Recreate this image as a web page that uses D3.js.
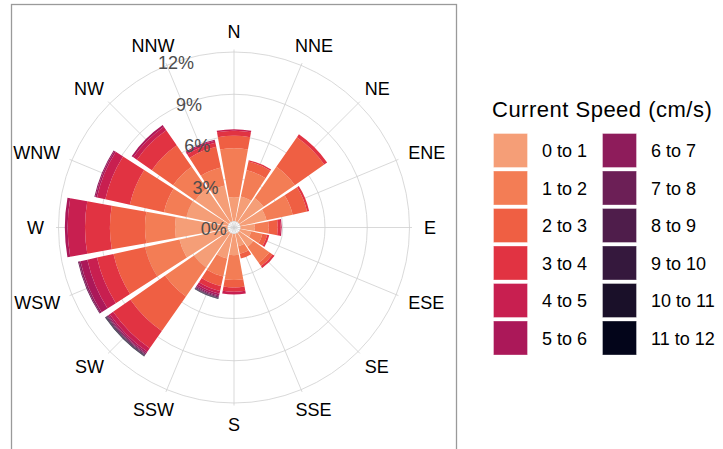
<!DOCTYPE html>
<html>
<head>
<meta charset="utf-8">
<script src="https://cdn.jsdelivr.net/npm/d3@7"></script>
<style>
  body { margin: 0; background: #fff; }
  svg { display: block; font-family: "Liberation Sans", Arial, sans-serif; }
</style>
</head>
<body>
<svg width="723" height="449"></svg>
<script>
var directions = ["N", "NNE", "NE", "ENE", "E", "ESE", "SE", "SSE",
                  "S", "SSW", "SW", "WSW", "W", "WNW", "NW", "NNW"];
var speedBins = ["0 to 1", "1 to 2", "2 to 3", "3 to 4", "4 to 5", "5 to 6",
                 "6 to 7", "7 to 8", "8 to 9", "9 to 10", "10 to 11", "11 to 12"];
var binColors = ["#F59E77", "#F37D55", "#EF5F43", "#E13342", "#C81F50", "#AB1859",
                 "#8E1C5B", "#6C1F56", "#4F1D4B", "#35183D", "#1A1029", "#03051A"];
var pctTicks = [0, 3, 6, 9, 12];

// frequency (%) per speed bin, directions in the order above
var speed0to1   = [1.7, 1.8, 2.1, 1.9, 1.0, 0.8, 1.2, 0.9, 1.5, 1.8, 3.0, 3.5, 3.73, 3.0, 2.9, 2.6];
var speed1to2   = [3.46, 1.9, 2.7, 1.9, 1.0, 0.8, 1.4, 0.55, 1.77, 1.3, 2.5, 2.5, 2.13, 1.63, 1.9, 1.3];
var speed2to3   = [0.89, 0.63, 2.55, 1.05, 0.65, 0.35, 0.28, 0.35, 0.52, 0.7, 3.0, 2.3, 2.49, 2.48, 1.85, 1.5];
var speed3to4   = [0.35, 0.1, 0.25, 0.15, 0.2, 0.15, 0.17, 0, 0.31, 0.35, 1.5, 1.2, 1.77, 1.78, 1.3, 0.3];
var speed4to5   = [0.12, 0, 0, 0, 0.08, 0, 0, 0, 0.2, 0.2, 0.3, 0.7, 1.23, 0.61, 0.3, 0.15];
var speed5to6   = [0, 0, 0, 0, 0, 0, 0, 0, 0, 0.13, 0.12, 0.5, 0.2, 0.12, 0.15, 0.07];
var speed6to7   = [0, 0, 0, 0, 0, 0, 0, 0, 0, 0.08, 0.08, 0.12, 0, 0.07, 0, 0];
var speed7to8   = [0, 0, 0, 0, 0, 0, 0, 0, 0, 0.06, 0.06, 0.06, 0, 0, 0, 0];
var speed8to9   = [0, 0, 0, 0, 0, 0, 0, 0, 0, 0.04, 0.05, 0, 0, 0, 0, 0];
var speed9to10  = [0, 0, 0, 0, 0, 0, 0, 0, 0, 0.03, 0.04, 0, 0, 0, 0, 0];
var speed10to11 = [0, 0, 0, 0, 0, 0, 0, 0, 0, 0.02, 0.03, 0, 0, 0, 0, 0];
var speed11to12 = [0, 0, 0, 0, 0, 0, 0, 0, 0, 0.02, 0.02, 0, 0, 0, 0, 0];

var binValues = [speed0to1, speed1to2, speed2to3, speed3to4, speed4to5, speed5to6,
                 speed6to7, speed7to8, speed8to9, speed9to10, speed10to11, speed11to12];

var rows = directions.map(function(dir, i) {
  var row = {dir: dir};
  speedBins.forEach(function(b, j) { row[b] = binValues[j][i]; });
  return row;
});

var svg = d3.select("svg"),
    cx = 234, cy = 227.5;

var step = 2 * Math.PI / directions.length;
var theta = d3.scaleBand()
    .domain(directions)
    .range([-step / 2, 2 * Math.PI - step / 2])
    .paddingInner(0.1)
    .paddingOuter(0.05);

var r = d3.scaleLinear().domain([0, 12]).range([6.5, 175.5]);

var color = d3.scaleOrdinal().domain(speedBins).range(binColors);

// panel border
svg.append("rect")
    .attr("x", 11.5).attr("y", 4.5)
    .attr("width", 445).attr("height", 450)
    .attr("fill", "none")
    .attr("stroke", "#9a9a9a")
    .attr("stroke-width", 1.3);

var plot = svg.append("g").attr("transform", "translate(" + cx + "," + cy + ")");

// grid
plot.selectAll(".ring")
    .data(pctTicks)
  .enter().append("circle")
    .attr("class", "ring")
    .attr("r", function(d) { return r(d); })
    .attr("fill", "none")
    .attr("stroke", "#cfcfcf")
    .attr("stroke-width", 0.8);

function center(d) { return theta(d) + theta.bandwidth() / 2; }

plot.selectAll(".spoke")
    .data(directions)
  .enter().append("line")
    .attr("class", "spoke")
    .attr("x1", 0).attr("y1", 0)
    .attr("x2", function(d) { return 178 * Math.sin(center(d)); })
    .attr("y2", function(d) { return -178 * Math.cos(center(d)); })
    .attr("stroke", "#cfcfcf")
    .attr("stroke-width", 0.8);

// stacked bars
var series = d3.stack().keys(speedBins)(rows);

var arc = d3.arc()
    .innerRadius(function(d) { return r(d[0]); })
    .outerRadius(function(d) { return r(d[1]); })
    .startAngle(function(d) { return theta(d.data.dir); })
    .endAngle(function(d) { return theta(d.data.dir) + theta.bandwidth(); });

plot.selectAll(".layer")
    .data(series)
  .enter().append("g")
    .attr("class", "layer")
    .attr("fill", function(d) { return color(d.key); })
  .selectAll("path")
    .data(function(d) { return d.filter(function(p) { return p[1] > p[0]; }); })
  .enter().append("path")
    .attr("d", arc);

// percent labels along a ray
var phi = 11.2 * Math.PI / 180;
plot.selectAll(".pct")
    .data(pctTicks)
  .enter().append("text")
    .attr("class", "pct")
    .attr("x", function(d) { return -r(d) * Math.sin(phi) - 6; })
    .attr("y", function(d) { return -r(d) * Math.cos(phi) + 14; })
    .attr("text-anchor", "end")
    .attr("font-size", 18)
    .attr("fill", "#4d4d4d")
    .text(function(d) { return d + "%"; });

// direction labels
var labR = 190, capH = 13;
plot.selectAll(".dirlab")
    .data(directions)
  .enter().append("text")
    .attr("class", "dirlab")
    .attr("font-size", 18)
    .attr("fill", "#000")
    .text(function(d) { return d; })
    .each(function(d) {
      var a = center(d),
          w = this.getComputedTextLength(),
          hj = 0.5 - Math.sin(a) / 2,
          vj = 0.5 - Math.cos(a) / 2;
      d3.select(this)
          .attr("x", labR * Math.sin(a) - hj * w)
          .attr("y", -labR * Math.cos(a) + vj * capH);
    });

// legend
var legend = svg.append("g").attr("transform", "translate(492,0)");

legend.append("text")
    .attr("x", 0).attr("y", 116.5)
    .attr("font-size", 22)
    .attr("letter-spacing", 0.5)
    .attr("fill", "#000")
    .text("Current Speed (cm/s)");

var item = legend.selectAll(".item")
    .data(speedBins)
  .enter().append("g")
    .attr("class", "item")
    .attr("transform", function(d, i) {
      return "translate(" + (Math.floor(i / 6) * 109) + "," + (133.5 + (i % 6) * 37.5) + ")";
    });

item.append("rect")
    .attr("x", 1.5).attr("y", 0)
    .attr("width", 34).attr("height", 34)
    .attr("fill", function(d) { return color(d); })
    .attr("stroke", "#fff")
    .attr("stroke-opacity", 0.35)
    .attr("stroke-width", 1);

item.append("text")
    .attr("x", 50).attr("y", 23.5)
    .attr("font-size", 18)
    .attr("fill", "#000")
    .text(function(d) { return d; });
</script>
</body>
</html>
